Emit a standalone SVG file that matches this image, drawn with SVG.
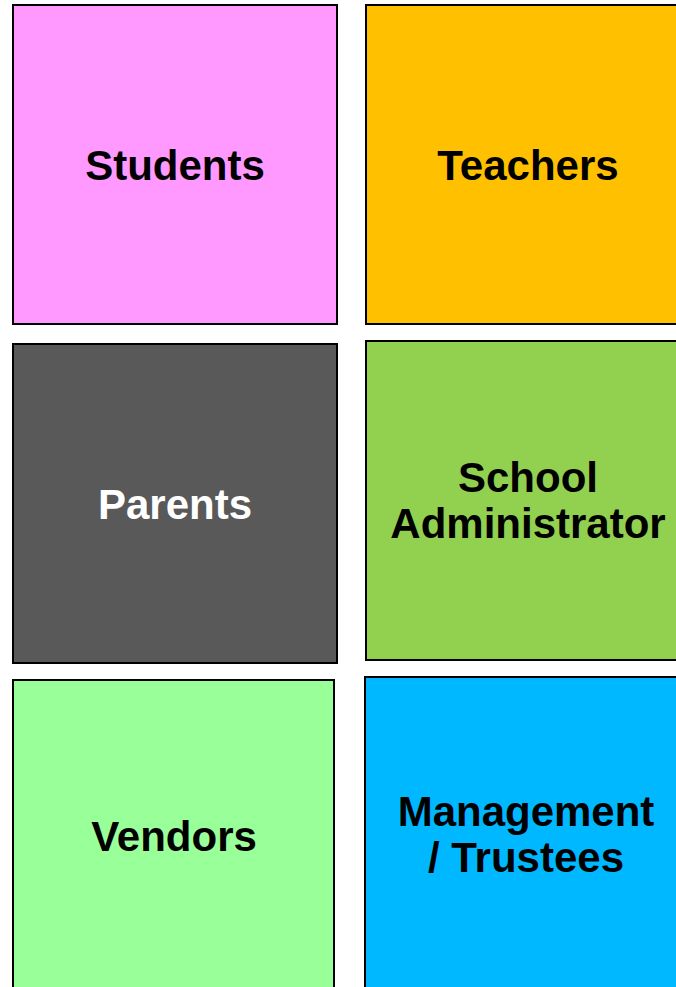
<svg xmlns="http://www.w3.org/2000/svg" width="676" height="987" viewBox="0 0 676 987">
<style>
.box{stroke:#000;stroke-width:2}
.t{font-family:"Liberation Sans",Arial,sans-serif;font-weight:bold;font-size:42px;text-anchor:middle;fill:#000}
.w{fill:#fff}
</style>
<rect width="676" height="987" fill="#fff"/>
<g id="students"><rect class="box" x="13" y="5" width="324" height="319" fill="#FF99FF"/><text class="t" x="175" y="180">Students</text></g>
<g id="teachers"><rect class="box" x="366" y="5" width="320" height="319" fill="#FFC000"/><text class="t" x="528" y="180">Teachers</text></g>
<g id="parents"><rect class="box" x="13" y="344" width="324" height="319" fill="#595959"/><text class="t w" x="175" y="519">Parents</text></g>
<g id="school-admin"><rect class="box" x="366" y="341" width="320" height="319" fill="#92D050"/><text class="t" x="528" y="492">School</text><text class="t" x="528" y="538">Administrator</text></g>
<g id="vendors"><rect class="box" x="13" y="680" width="321" height="320" fill="#99FF99"/><text class="t" x="174" y="851">Vendors</text></g>
<g id="management"><rect class="box" x="365" y="677" width="321" height="320" fill="#00B8FF"/><text class="t" x="526" y="826">Management</text><text class="t" x="526" y="872">/ Trustees</text></g>
<g id="connectors"/>
</svg>
